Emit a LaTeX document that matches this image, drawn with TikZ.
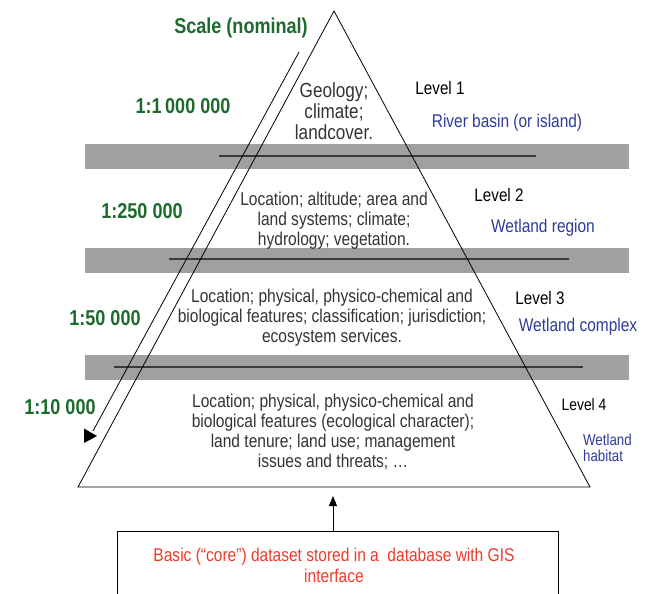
\documentclass[tikz,border=0pt]{standalone}
\usepackage{fontspec}
\setmainfont{Liberation Sans}[FakeStretch=0.84]
\usetikzlibrary{arrows.meta}
\definecolor{scalegreen}{HTML}{1C6A2C}
\definecolor{levelblue}{HTML}{2E3A9C}
\definecolor{corered}{HTML}{EE3A2A}
\definecolor{bodygray}{HTML}{333333}
\definecolor{bandgray}{HTML}{A0A0A0}
\definecolor{bandline}{HTML}{3A3A3A}
\tikzset{
  band/.style={fill=bandgray, draw=none},
  bandrule/.style={draw=bandline, line width=1.3pt},
  edge/.style={draw=black, line width=0.8pt},
  bodytext/.style={text=bodygray, align=center, inner sep=0pt, font=\fontsize{18.5}{20}\selectfont},
  scaletext/.style={text=scalegreen, inner sep=0pt, font=\fontsize{21.5}{22}\selectfont\bfseries},
  leveltext/.style={text=black, inner sep=0pt, font=\fontsize{18.1}{20}\selectfont},
  bluetext/.style={text=levelblue, inner sep=0pt, font=\fontsize{18.4}{20}\selectfont},
  coretext/.style={text=corered, align=center, inner sep=0pt, font=\fontsize{18.5}{21}\selectfont},
  corebox/.style={draw=black, line width=0.8pt, minimum width=441pt, minimum height=84pt, inner sep=0pt},
}
\begin{document}
\begin{tikzpicture}[x=1pt, y=-1pt]
\useasboundingbox (0,0) rectangle (648,594);
\clip (0,0) rectangle (648,594);
% grey bands
\fill[band] (85,144) rectangle (629,169);
\fill[band] (85,248) rectangle (629,273);
\fill[band] (85,355) rectangle (629,380);
\draw[bandrule] (219,156) -- (536,156);
\draw[bandrule] (169,259) -- (569,259);
\draw[bandrule] (114,367) -- (583,367);
% pyramid
\coordinate (apex) at (334,11);
\coordinate (bl) at (78,487);
\coordinate (br) at (590,487);
\coordinate (basemid) at (333,496);
\draw[edge] (apex) -- (br) -- (bl) -- cycle;
% scale arrow
\coordinate (sstart) at (299,52);
\coordinate (send) at (93,431);
\draw[edge] (sstart) -- (send);
\fill[black] (84,428.5) -- (84,443) -- (97,436) -- cycle;
% scale labels
\node[scaletext] (scale) at (241,28) {Scale (nominal)};
\node[scaletext] (s1) at (183,106) {1:1\,000 000};
\node[scaletext] (s2) at (142,211) {1:250 000};
\node[scaletext] (s3) at (105,318) {1:50 000};
\node[scaletext] (s4) at (60,407) {1:10 000};
% level contents
\node[bodytext, font=\fontsize{20.4}{21}\selectfont] (t1) at (334,111) {Geology;\\climate;\\landcover.};
\node[bodytext] (t2) at (334,221) {Location; altitude; area and\\land systems; climate;\\hydrology; vegetation.};
\node[bodytext] (t3) at (332,318) {Location; physical, physico-chemical and\\biological features; classification; jurisdiction;\\ecosystem services.};
\node[bodytext] (t4) at (333,432) {Location; physical, physico-chemical and\\biological features (ecological character);\\land tenure; land use; management\\issues and threats; …};
% level labels
\node[leveltext] (l1) at (440,88) {Level 1};
\node[leveltext] (l2) at (499,195) {Level 2};
\node[leveltext] (l3) at (540,298) {Level 3};
\node[leveltext, font=\fontsize{16.5}{18}\selectfont] (l4) at (584,405) {Level 4};
\node[bluetext] (b1) at (507,123) {River basin (or island)};
\node[bluetext] (b2) at (543,228) {Wetland region};
\node[bluetext] (b3) at (578,327) {Wetland complex};
\node[bluetext, align=left, anchor=west, font=\fontsize{15.8}{16}\selectfont] (b4) at (583,448) {Wetland\\habitat};
% core dataset box
\node[corebox] (box) at (337.5,573) {};
\node[coretext] (boxtext) at (334,565.5) {Basic (“core”) dataset stored in a\ \ database with GIS\\interface};
\draw[edge, -{Triangle[width=8pt,length=10pt]}] (box.north -| basemid) -- (basemid);
\end{tikzpicture}
\end{document}
